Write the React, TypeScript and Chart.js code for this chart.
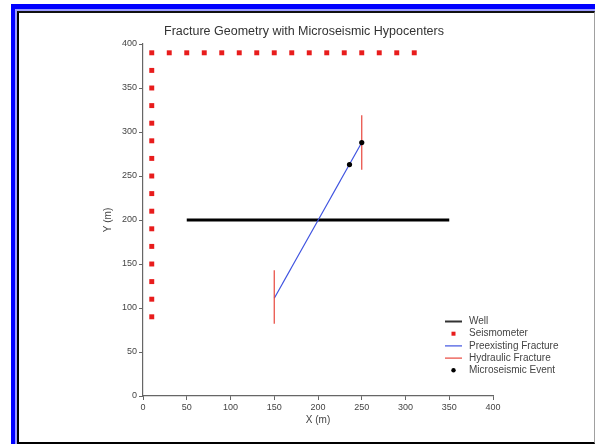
import React, { useEffect, useRef } from "react";
import { Chart, registerables } from "chart.js";

Chart.register(...registerables);

const chartTitle = "Fracture Geometry with Microseismic Hypocenters";
const xAxisTitle = "X (m)";
const yAxisTitle = "Y (m)";
const axisMin = 0;
const axisMax = 400;
const tickStep = 50;

const legendLabels = ["Well", "Seismometer", "Preexisting Fracture", "Hydraulic Fracture", "Microseismic Event"];

const wellX = [50, 350];
const wellY = [200, 200];

const seisX = [10, 10, 10, 10, 10, 10, 10, 10, 10, 10, 10, 10, 10, 10, 10, 10,
  30, 50, 70, 90, 110, 130, 150, 170, 190, 210, 230, 250, 270, 290, 310];
const seisY = [390, 370, 350, 330, 310, 290, 270, 250, 230, 210, 190, 170, 150, 130, 110, 90,
  390, 390, 390, 390, 390, 390, 390, 390, 390, 390, 390, 390, 390, 390, 390];

const preX = [150, 250];
const preY = [111, 288];

const hyd1X = [150, 150];
const hyd1Y = [82, 143];
const hyd2X = [250, 250];
const hyd2Y = [257, 319];

const eventX = [236, 250];
const eventY = [263, 288];

const WELL_COLOR = "#000000";
const SEIS_COLOR = "#e81c1c";
const PRE_COLOR = "#3e52e0";
const HYD_COLOR = "#e8463c";
const EVENT_COLOR = "#000000";

const pts = (xs: number[], ys: number[]) => xs.map((x, i) => ({ x, y: ys[i] }));

const legendPlugin = {
  id: "customLegend",
  afterDraw(chart: any) {
    const { ctx, chartArea } = chart;
    const x0 = chartArea.right - 48;
    const x1 = chartArea.right - 31;
    const tx = chartArea.right - 24;
    const y0 = chartArea.bottom - 74.5;
    const step = 12.2;
    ctx.save();
    ctx.font = "10px 'Liberation Sans', Arial, sans-serif";
    ctx.textBaseline = "middle";
    ctx.textAlign = "left";
    legendLabels.forEach((label, i) => {
      const y = y0 + i * step;
      const mid = (x0 + x1) / 2;
      if (i === 0 || i === 2 || i === 3) {
        ctx.strokeStyle = i === 0 ? "#333333" : i === 2 ? PRE_COLOR : HYD_COLOR;
        ctx.lineWidth = i === 0 ? 2 : 1.2;
        ctx.beginPath();
        ctx.moveTo(x0, y);
        ctx.lineTo(x1, y);
        ctx.stroke();
      } else if (i === 1) {
        ctx.fillStyle = SEIS_COLOR;
        ctx.fillRect(mid - 2, y - 2, 4, 4);
      } else {
        ctx.fillStyle = EVENT_COLOR;
        ctx.beginPath();
        ctx.arc(mid, y, 2.2, 0, Math.PI * 2);
        ctx.fill();
      }
      ctx.fillStyle = "#444444";
      ctx.fillText(label, tx, y);
    });
    ctx.restore();
  },
};

export default function App() {
  const canvasRef = useRef<HTMLCanvasElement | null>(null);

  useEffect(() => {
    if (!canvasRef.current) return;
    const lineDs = (label: string, data: any[], color: string, width: number, order: number) => ({
      label,
      data,
      showLine: true,
      borderColor: color,
      backgroundColor: color,
      borderWidth: width,
      pointRadius: 0,
      pointHoverRadius: 0,
      order,
      clip: false as any,
    });
    const chart = new Chart(canvasRef.current, {
      type: "scatter",
      data: {
        datasets: [
          lineDs("Well", pts(wellX, wellY), WELL_COLOR, 3, 4),
          {
            label: "Seismometer",
            data: pts(seisX, seisY),
            pointStyle: "rect",
            pointRadius: 3.5,
            pointBorderWidth: 0,
            backgroundColor: SEIS_COLOR,
            borderColor: SEIS_COLOR,
            order: 3,
            clip: false as any,
          },
          lineDs("Preexisting Fracture", pts(preX, preY), PRE_COLOR, 1.2, 2),
          lineDs("Hydraulic Fracture", pts(hyd1X, hyd1Y), HYD_COLOR, 1.2, 1),
          lineDs("Hydraulic Fracture 2", pts(hyd2X, hyd2Y), HYD_COLOR, 1.2, 1),
          {
            label: "Microseismic Event",
            data: pts(eventX, eventY),
            pointStyle: "circle",
            pointRadius: 2.6,
            pointBorderWidth: 0,
            backgroundColor: EVENT_COLOR,
            borderColor: EVENT_COLOR,
            order: 0,
            clip: false as any,
          },
        ],
      },
      options: {
        responsive: false,
        animation: false,
        events: [],
        layout: { padding: { left: 115, right: 102, top: 0, bottom: 8 } },
        plugins: {
          legend: { display: false },
          tooltip: { enabled: false },
          title: {
            display: true,
            text: chartTitle,
            color: "#333333",
            font: { family: "'Liberation Sans', Arial, sans-serif", size: 12.5, weight: "normal", lineHeight: 1.2 },
            padding: { top: 24, bottom: 5 },
          },
        },
        scales: {
          x: {
            type: "linear",
            min: axisMin,
            max: axisMax,
            afterFit: (scale: any) => { scale.height = 40; },
            ticks: {
              stepSize: tickStep,
              color: "#444444",
              padding: 2,
              maxRotation: 0,
              font: { family: "'Liberation Sans', Arial, sans-serif", size: 9 },
            },
            grid: { display: true, drawOnChartArea: false, drawTicks: true, tickLength: 4, color: "#666666" },
            border: { display: true, color: "#666666", width: 1.2 },
            title: {
              display: true,
              text: xAxisTitle,
              color: "#444444",
              font: { family: "'Liberation Sans', Arial, sans-serif", size: 10, lineHeight: 1.2 },
              padding: { top: 0, bottom: 10 },
            },
          },
          y: {
            type: "linear",
            min: axisMin,
            max: axisMax,
            afterFit: (scale: any) => { scale.width = 28; },
            ticks: {
              stepSize: tickStep,
              color: "#444444",
              padding: 2,
              font: { family: "'Liberation Sans', Arial, sans-serif", size: 9 },
            },
            grid: { display: true, drawOnChartArea: false, drawTicks: true, tickLength: 4, color: "#666666" },
            border: { display: true, color: "#666666", width: 1.2 },
            title: {
              display: true,
              text: yAxisTitle,
              color: "#444444",
              font: { family: "'Liberation Sans', Arial, sans-serif", size: 10, lineHeight: 1.2 },
              padding: { top: -13, bottom: 0 },
            },
          },
        },
      },
      plugins: [legendPlugin],
    });
    return () => chart.destroy();
  }, []);

  return (
    <div style={{ position: "absolute", left: 0, top: 0, width: 595, height: 444, overflow: "hidden", background: "#ffffff" }}>
      <div style={{ position: "absolute", left: 11, top: 4, width: 584, height: 440, background: "#0000ff" }} />
      <div style={{ position: "absolute", left: 15, top: 9, width: 580, height: 435, background: "#9a9aff" }} />
      <div
        style={{
          position: "absolute",
          left: 17,
          top: 11,
          width: 578,
          height: 433,
          boxSizing: "border-box",
          background: "#ffffff",
          borderLeft: "2px solid #000",
          borderTop: "2px solid #111",
          borderBottom: "2px solid #000",
          borderRight: "1px solid #a0a0a0",
        }}
      />
      <canvas ref={canvasRef} width={595} height={444} style={{ position: "absolute", left: 0, top: 0 }} />
    </div>
  );
}
